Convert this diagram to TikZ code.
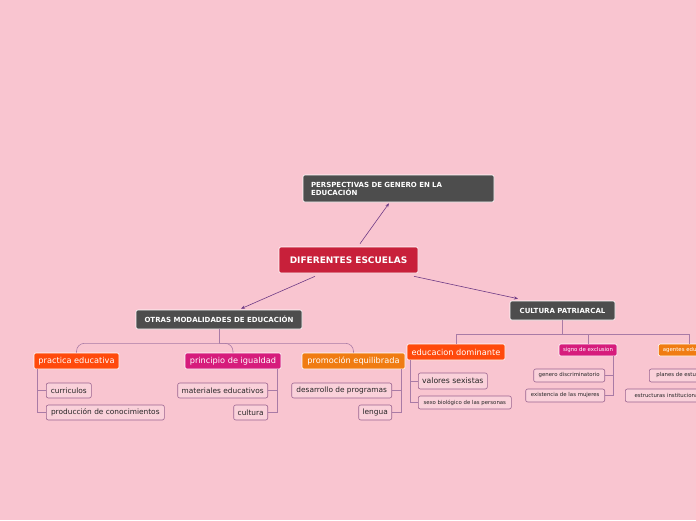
\documentclass[tikz,border=0pt]{standalone}
\usepackage{fontspec}
\setmainfont{DejaVu Sans}
\usetikzlibrary{arrows.meta, positioning}
\definecolor{bgpink}{HTML}{F9C5D0}
\definecolor{darkbox}{HTML}{4D4D4D}
\definecolor{rootred}{HTML}{C8203A}
\definecolor{redorange}{HTML}{FF4A0C}
\definecolor{magentabox}{HTML}{D61C7C}
\definecolor{orangebox}{HTML}{F07C12}
\definecolor{leaffill}{HTML}{FAD1DA}
\definecolor{leafline}{HTML}{9A6490}
\definecolor{arrline}{HTML}{6E3B86}
\definecolor{treeline}{HTML}{A97BA6}
\begin{document}
\begin{tikzpicture}[x=1pt, y=-1pt, >={Stealth[length=4pt,width=3.2pt]},
  box/.style={draw=white, line width=0.6pt, rounded corners=2pt, inner sep=0pt, text=white, align=center},
  root/.style={box, fill=rootred, font=\bfseries\fontsize{9}{11}\selectfont},
  darkbox/.style={box, fill=darkbox, font=\bfseries\fontsize{7}{8}\selectfont},
  sub/.style={box, font=\fontsize{8.2}{10}\selectfont, minimum height=16pt},
  subsmall/.style={box, font=\fontsize{5.4}{6}\selectfont, minimum height=12pt},
  leaf/.style={draw=leafline, line width=0.6pt, fill=leaffill, rounded corners=2pt, inner sep=0pt, text=black!85, font=\fontsize{7.4}{9}\selectfont, minimum height=15pt},
  leafsmall/.style={leaf, font=\fontsize{5.4}{6}\selectfont, minimum height=13pt},
  arr/.style={->, draw=arrline, line width=0.6pt},
  tree/.style={draw=treeline, line width=0.6pt} ]
  \fill[bgpink] (0,0) rectangle (696,520);
  \clip (0,0) rectangle (696,520);
  % main nodes
  \node[root, minimum width=139pt, minimum height=26pt] (escuelas) at (348.5,260) {DIFERENTES ESCUELAS};
  \node[darkbox, minimum width=191pt, minimum height=27pt, text width=175pt, align=left] (perspectivas) at (398.5,188.5) {PERSPECTIVAS DE GENERO EN LA\\EDUCACIÓN};
  \node[darkbox, minimum width=166pt, minimum height=19pt] (otras) at (219,319.5) {OTRAS MODALIDADES DE EDUCACIÓN};
  \node[darkbox, minimum width=105pt, minimum height=19pt] (patriarcal) at (562.5,310.5) {CULTURA PATRIARCAL};
  % arrows from the root
  \draw[arr] ([xshift=11.5pt,yshift=3pt]escuelas.north) -- ([xshift=-9.5pt,yshift=-1pt]perspectivas.south);
  \draw[arr] ([xshift=-33.5pt,yshift=-3pt]escuelas.south) -- ([xshift=22pt,yshift=1pt]otras.north);
  \draw[arr] ([xshift=65.5pt,yshift=-3pt]escuelas.south) -- ([xshift=-44.5pt,yshift=2pt]patriarcal.north);
  % otras modalidades
  \node[sub, fill=redorange, minimum width=85pt] (practica) at (76.5,361) {practica educativa};
  \node[sub, fill=magentabox, minimum width=96pt] (principio) at (233,361) {principio de igualdad};
  \node[sub, fill=orangebox, minimum width=103pt] (promocion) at (353.5,361) {promoción equilibrada};
  \draw[tree] (otras.south) -- ++(0,14);
  \draw[tree, rounded corners=8pt] (practica.north) |- ([yshift=-14pt]otras.south) -| (promocion.north);
  \draw[tree, rounded corners=8pt] ([yshift=-14pt]otras.south) -| (principio.north);
  \node[leaf, anchor=west, minimum width=45pt] (curriculos) at (46,390.5) {curriculos};
  \node[leaf, anchor=west, minimum width=118pt] (produccion) at (46,412.5) {producción de conocimientos};
  \node[leaf, anchor=east, minimum width=90pt] (materiales) at (268,390.5) {materiales educativos};
  \node[leaf, anchor=east, minimum width=34pt] (cultura) at (268,412.5) {cultura};
  \node[leaf, anchor=east, minimum width=100pt] (desarrollo) at (392,390.5) {desarrollo de programas};
  \node[leaf, anchor=east, minimum width=33pt] (lengua) at (392,412.5) {lengua};
  \draw[tree] ([xshift=4pt]practica.south west) |- (curriculos.west);
  \draw[tree] ([xshift=4pt]practica.south west) |- (produccion.west);
  \draw[tree] ([xshift=-4pt]principio.south east) |- (materiales.east);
  \draw[tree] ([xshift=-4pt]principio.south east) |- (cultura.east);
  \draw[tree] ([xshift=-4pt]promocion.south east) |- (desarrollo.east);
  \draw[tree] ([xshift=-4pt]promocion.south east) |- (lengua.east);
  % cultura patriarcal
  \node[sub, fill=redorange, minimum width=98pt] (dominante) at (456,352) {educacion dominante};
  \node[subsmall, fill=magentabox, minimum width=58pt] (exclusion) at (588,350) {signo de exclusion};
  \node[subsmall, fill=orangebox, anchor=west, minimum width=62pt] (agentes) at (658,350) {agentes educativos};
  \draw[tree] (patriarcal.south) -- ++(0,14);
  \draw[tree] (dominante.north) |- ([yshift=-14pt]patriarcal.south) -| (agentes.north);
  \draw[tree] ([yshift=-14pt]patriarcal.south) -| (exclusion.north);
  \node[leaf, anchor=west, minimum width=69pt, minimum height=16pt, font=\fontsize{7.7}{9}\selectfont] (valores) at (418,381) {valores sexistas};
  \node[leafsmall, anchor=west, minimum width=93pt] (biologico) at (418,402.5) {sexo biológico de las personas};
  \node[leafsmall, anchor=east, minimum width=71pt] (discriminatorio) at (605,375.5) {genero discriminatorio};
  \node[leafsmall, anchor=east, minimum width=79pt] (existencia) at (605,395.5) {existencia de las mujeres};
  \node[leafsmall, anchor=west, minimum width=62pt] (planes) at (649,375.5) {planes de estudio};
  \node[leafsmall, anchor=west, minimum width=90pt] (estructuras) at (625,395.5) {estructuras institucionales};
  \draw[tree] ([xshift=4pt]dominante.south west) |- (valores.west);
  \draw[tree] ([xshift=4pt]dominante.south west) |- (biologico.west);
  \draw[tree] ([xshift=-4pt]exclusion.south east) |- (discriminatorio.east);
  \draw[tree] ([xshift=-4pt]exclusion.south east) |- (existencia.east);
  \draw[tree] ([xshift=-4pt]agentes.south east) |- (planes.east);
  \draw[tree] ([xshift=-4pt]agentes.south east) |- (estructuras.east);
\end{tikzpicture}
\end{document}
